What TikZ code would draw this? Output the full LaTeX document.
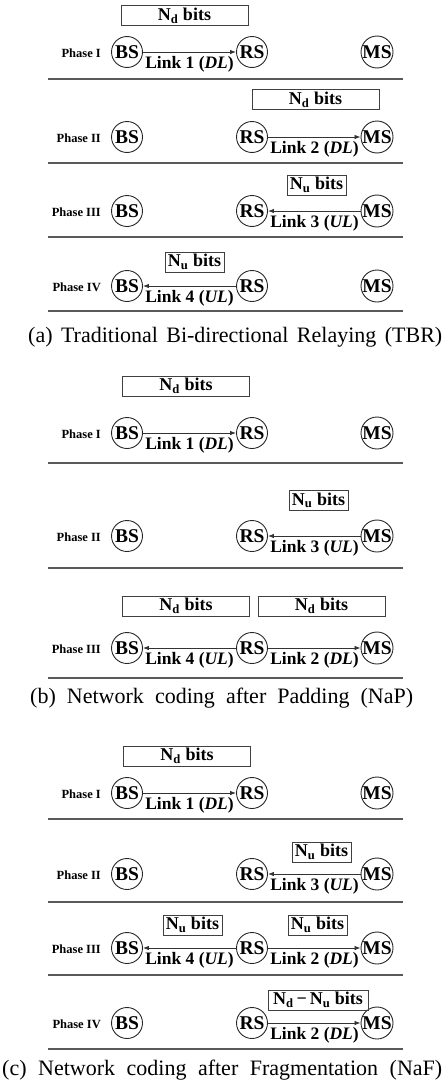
\documentclass[tikz,border=0pt]{standalone}
\usepackage{fontspec}
\setmainfont{Liberation Serif}
\usetikzlibrary{arrows.meta}
\tikzset{
  stn/.style={circle, draw=black!85, line width=0.9pt, minimum size=31pt, inner sep=0pt, font=\bfseries\fontsize{19.5}{19.5}\selectfont},
  bitbox/.style={draw=black!75, line width=0.9pt, minimum height=20pt, inner sep=0pt, font=\bfseries\fontsize{18}{18}\selectfont},
  link/.style={-{Latex[length=6pt,width=4.5pt]}, line width=0.8pt, draw=black!80},
  lab/.style={font=\bfseries\fontsize{17.5}{18}\selectfont, inner sep=0pt},
  phase/.style={font=\bfseries\fontsize{12.5}{13}\selectfont, anchor=east, inner sep=0pt},
  sep/.style={draw=black!65, line width=1.3pt},
  captxt/.style={font=\fontsize{22}{24}\selectfont, inner sep=0pt, anchor=west}
}
\newcommand\stationrow[3]{%
  \node[phase] (ph#1) at (101,#2+1) {#3};
  \node[stn] (bs#1) at (127,#2) {BS};
  \node[stn] (rs#1) at (252,#2) {RS};
  \node[stn] (ms#1) at (377,#2) {MS};
}
\newcommand\Nd{N\textsubscript{d}}
\newcommand\Nu{N\textsubscript{u}}
\begin{document}
\begin{tikzpicture}[x=1pt,y=-1pt]
\useasboundingbox (0,0) rectangle (444,1084);
% ---------------- (a) ----------------
\stationrow{a1}{52}{Phase I}
\node[bitbox, minimum width=127pt] (ba1) at (184.5,15.5) {\Nd{} bits};
\draw[link] (bsa1) -- (rsa1);
\node[lab] (la1) at (189.5,64) {Link 1 (\textit{DL})};
\coordinate (sa1l) at (48,79); \coordinate (sa1r) at (403,79);
\draw[sep] (sa1l) -- (sa1r);

\stationrow{a2}{137}{Phase II}
\node[bitbox, minimum width=127pt] (ba2) at (315.5,99.5) {\Nd{} bits};
\draw[link] (rsa2) -- (msa2);
\node[lab] (la2) at (314.5,149) {Link 2 (\textit{DL})};
\coordinate (sa2l) at (48,163); \coordinate (sa2r) at (403,163);
\draw[sep] (sa2l) -- (sa2r);

\stationrow{a3}{211}{Phase III}
\node[bitbox, minimum width=59pt] (ba3) at (316.5,185) {\Nu{} bits};
\draw[link] (msa3) -- (rsa3);
\node[lab] (la3) at (314.5,223) {Link 3 (\textit{UL})};
\coordinate (sa3l) at (48,237); \coordinate (sa3r) at (403,237);
\draw[sep] (sa3l) -- (sa3r);

\stationrow{a4}{286}{Phase IV}
\node[bitbox, minimum width=59pt] (ba4) at (194.5,262) {\Nu{} bits};
\draw[link] (rsa4) -- (bsa4);
\node[lab] (la4) at (189.5,298) {Link 4 (\textit{UL})};
\coordinate (sa4l) at (48,311); \coordinate (sa4r) at (403,311);
\draw[sep] (sa4l) -- (sa4r);

\node[captxt] (capa) at (28,337) {\makebox[414pt][s]{(a) Traditional Bi-directional Relaying (TBR)}};

% ---------------- (b) ----------------
\stationrow{b1}{433}{Phase I}
\node[bitbox, minimum width=127pt] (bb1) at (186,386) {\Nd{} bits};
\draw[link] (bsb1) -- (rsb1);
\node[lab] (lb1) at (189.5,445) {Link 1 (\textit{DL})};
\coordinate (sb1l) at (48,463); \coordinate (sb1r) at (403,463);
\draw[sep] (sb1l) -- (sb1r);

\stationrow{b2}{536}{Phase II}
\node[bitbox, minimum width=59pt] (bb2) at (318.5,500.5) {\Nu{} bits};
\draw[link] (msb2) -- (rsb2);
\node[lab] (lb2) at (314.5,548) {Link 3 (\textit{UL})};
\coordinate (sb2l) at (48,568); \coordinate (sb2r) at (403,568);
\draw[sep] (sb2l) -- (sb2r);

\stationrow{b3}{648}{Phase III}
\node[bitbox, minimum width=127pt] (bb3l) at (186,606) {\Nd{} bits};
\node[bitbox, minimum width=127pt] (bb3r) at (321.5,606) {\Nd{} bits};
\draw[link] (rsb3) -- (bsb3);
\draw[link] (rsb3) -- (msb3);
\node[lab] (lb3l) at (189.5,660) {Link 4 (\textit{UL})};
\node[lab] (lb3r) at (314.5,660) {Link 2 (\textit{DL})};
\coordinate (sb3l) at (48,678); \coordinate (sb3r) at (403,678);
\draw[sep] (sb3l) -- (sb3r);

\node[captxt] (capb) at (30,698) {\makebox[383pt][s]{(b) Network coding after Padding (NaP)}};

% ---------------- (c) ----------------
\stationrow{c1}{793}{Phase I}
\node[bitbox, minimum width=127pt] (bc1) at (187,756) {\Nd{} bits};
\draw[link] (bsc1) -- (rsc1);
\node[lab] (lc1) at (189.5,805) {Link 1 (\textit{DL})};
\coordinate (sc1l) at (48,819); \coordinate (sc1r) at (403,819);
\draw[sep] (sc1l) -- (sc1r);

\stationrow{c2}{874}{Phase II}
\node[bitbox, minimum width=59pt] (bc2) at (321.5,852) {\Nu{} bits};
\draw[link] (msc2) -- (rsc2);
\node[lab] (lc2) at (314.5,886) {Link 3 (\textit{UL})};
\coordinate (sc2l) at (48,902); \coordinate (sc2r) at (403,902);
\draw[sep] (sc2l) -- (sc2r);

\stationrow{c3}{948}{Phase III}
\node[bitbox, minimum width=59pt] (bc3l) at (192.5,925) {\Nu{} bits};
\node[bitbox, minimum width=59pt] (bc3r) at (317.5,925) {\Nu{} bits};
\draw[link] (rsc3) -- (bsc3);
\draw[link] (rsc3) -- (msc3);
\node[lab] (lc3l) at (189.5,960) {Link 4 (\textit{UL})};
\node[lab] (lc3r) at (314.5,960) {Link 2 (\textit{DL})};
\coordinate (sc3l) at (48,975); \coordinate (sc3r) at (403,975);
\draw[sep] (sc3l) -- (sc3r);

\stationrow{c4}{1023}{Phase IV}
\node[bitbox, minimum width=100pt] (bc4) at (318,1000) {\Nd{}\,−\,\Nu{} bits};
\draw[link] (rsc4) -- (msc4);
\node[lab] (lc4) at (314.5,1035) {Link 2 (\textit{DL})};
\coordinate (sc4l) at (48,1049); \coordinate (sc4r) at (403,1049);
\draw[sep] (sc4l) -- (sc4r);

\node[captxt] (capc) at (2,1070) {\makebox[440pt][s]{(c) Network coding after Fragmentation (NaF)}};
\end{tikzpicture}
\end{document}
